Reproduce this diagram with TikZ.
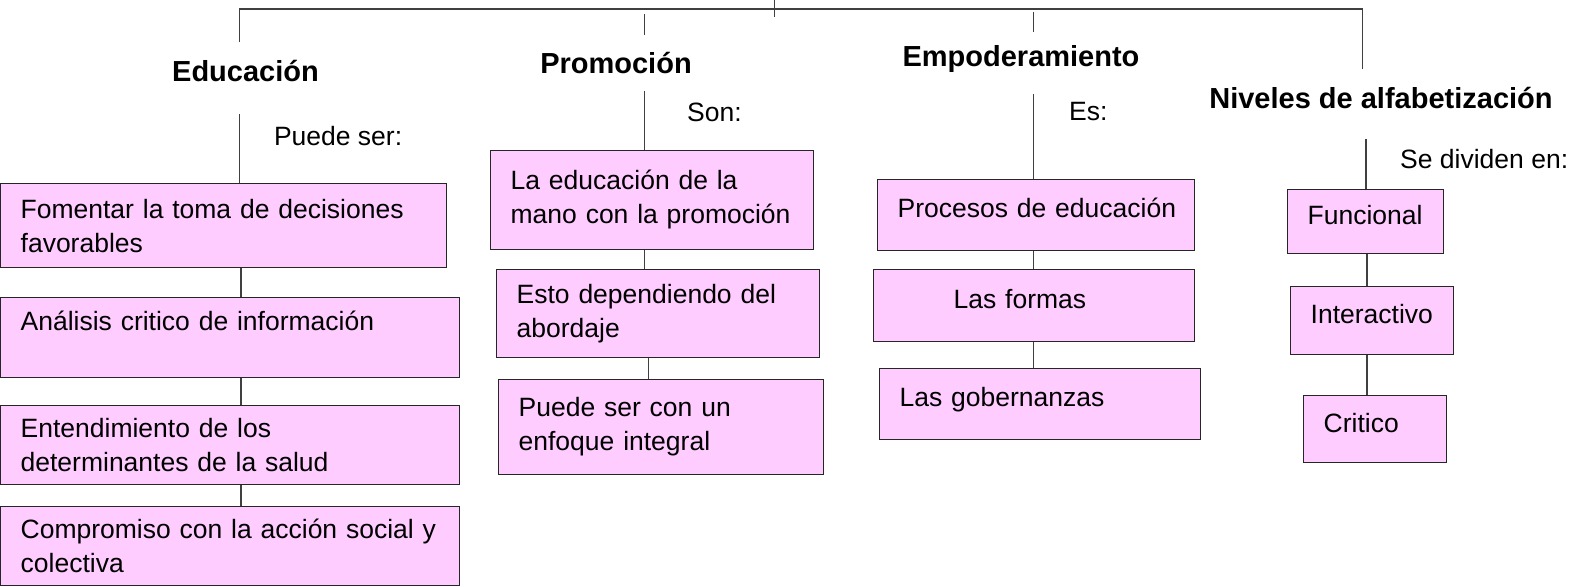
\documentclass[tikz,border=0pt]{standalone}
\usepackage{fontspec}
\setmainfont{Liberation Sans}
\usetikzlibrary{positioning}
\definecolor{boxpink}{RGB}{255,204,255}

\begin{document}
\begin{tikzpicture}[
  x=1pt, y=-1pt,
  topic/.style={font=\bfseries\fontsize{29}{34}\selectfont, inner sep=0pt},
  note/.style={font=\fontsize{26.5}{34}\selectfont, anchor=west, inner sep=0pt},
  item/.style={draw=black!85, fill=boxpink, line width=1.3pt, anchor=north west, align=left,
    inner xsep=20pt, inner ysep=0pt, font=\fontsize{26.5}{34}\selectfont},
  oneline/.style={text height=20pt, text depth=14pt},
  edge/.style={draw=black!75, line width=1.3pt}
]
\useasboundingbox (0,0) rectangle (1584,586);

% Headers
\node[topic] (edu) at (245.5,70.7) {Educación};
\node[topic] (pro) at (616,62.6) {Promoción};
\node[topic] (emp) at (1021,58.6) {Empoderamiento};
\node[topic] (niv) at (1381,98) {Niveles de alfabetización};

% Labels
\node[note] (eduL) at (273.8,136.4) {Puede ser:};
\node[note] (proL) at (687,112) {Son:};
\node[note] (empL) at (1069,112) {Es:};
\node[note] (nivL) at (1400,158.6) {Se dividen en:};

% Educacion column
\node[item, text width=405.5pt, minimum height=84pt] (B1) at (0,183) {Fomentar la toma de decisiones\\favorables};
\node[item, text width=418.5pt, minimum height=80pt] (B2) at (0,297) {Análisis critico de información\\~};
\node[item, text width=418.5pt, minimum height=79pt] (B3) at (0,404.5) {Entendimiento de los\\determinantes de la salud};
\node[item, text width=418.5pt, minimum height=79pt] (B4) at (0,505.7) {Compromiso con la acción social y\\colectiva};

% Promocion column
\node[item, text width=283pt, minimum height=99pt] (P1) at (490,149.5) {La educación de la\\mano con la promoción};
\node[item, text width=283pt, minimum height=88pt] (P2) at (496,268.7) {Esto dependiendo del\\abordaje};
\node[item, text width=285pt, minimum height=95pt] (P3) at (498,378.8) {Puede ser con un\\enfoque integral};

% Empoderamiento column
\node[item, oneline, text width=277pt, minimum height=71pt] (E1) at (877,178.8) {\mbox{Procesos de educación}};
\node[item, oneline, text width=281pt, minimum height=72pt] (E2) at (873,268.7) {\hspace*{60pt}Las formas};
\node[item, oneline, text width=281pt, minimum height=71pt] (E3) at (879,367.7) {Las gobernanzas};

% Niveles column
\node[item, oneline, text width=116pt, minimum height=63.7pt] (N1) at (1287,189) {\mbox{Funcional}};
\node[item, oneline, text width=122.7pt, minimum height=68pt] (N2) at (1290,285.7) {\mbox{Interactivo}};
\node[item, oneline, text width=102.6pt, minimum height=66.7pt] (N3) at (1303,395) {Critico};

% Line ends
\coordinate (barL) at (0,9);
\coordinate (tickTop) at (774.8,0);
\coordinate (tickBot) at (774.8,17.2);
\coordinate (eduUp) at (239.4,42.4);
\coordinate (nivUp) at (1362.8,68.7);
\coordinate (proTop) at (644.5,14.1);
\coordinate (proUp) at (644.5,35.4);
\coordinate (empTop) at (1033.4,12.1);
\coordinate (empUp) at (1033.4,32.3);
\coordinate (eduDown) at (239.4,114);
\coordinate (proDown) at (644.5,91);
\coordinate (empDown) at (1033.4,94);
\coordinate (nivDown) at (1366,139);
\coordinate (colE) at (241,0);
\coordinate (colP) at (644.5,0);
\coordinate (colP2) at (648.5,0);
\coordinate (colM) at (1033.4,0);
\coordinate (colN) at (1367,0);

% Top bar
\draw[edge] (eduUp) -- (eduUp |- barL) -- (nivUp |- barL) -- (nivUp);
\draw[edge] (tickTop) -- (tickBot);
\draw[edge] (proTop) -- (proUp);
\draw[edge] (empTop) -- (empUp);

% Header to first box
\draw[edge] (eduDown) -- (eduDown |- B1.north);
\draw[edge] (proDown) -- (proDown |- P1.north);
\draw[edge] (empDown) -- (empDown |- E1.north);
\draw[edge] (nivDown) -- (nivDown |- N1.north);

% Between boxes
\draw[edge] (B1.south -| colE) -- (B2.north -| colE);
\draw[edge] (B2.south -| colE) -- (B3.north -| colE);
\draw[edge] (B3.south -| colE) -- (B4.north -| colE);
\draw[edge] (P1.south -| colP) -- (P2.north -| colP);
\draw[edge] (P2.south -| colP2) -- (P3.north -| colP2);
\draw[edge] (E1.south -| colM) -- (E2.north -| colM);
\draw[edge] (E2.south -| colM) -- (E3.north -| colM);
\draw[edge] (N1.south -| colN) -- (N2.north -| colN);
\draw[edge] (N2.south -| colN) -- (N3.north -| colN);

\end{tikzpicture}
\end{document}
